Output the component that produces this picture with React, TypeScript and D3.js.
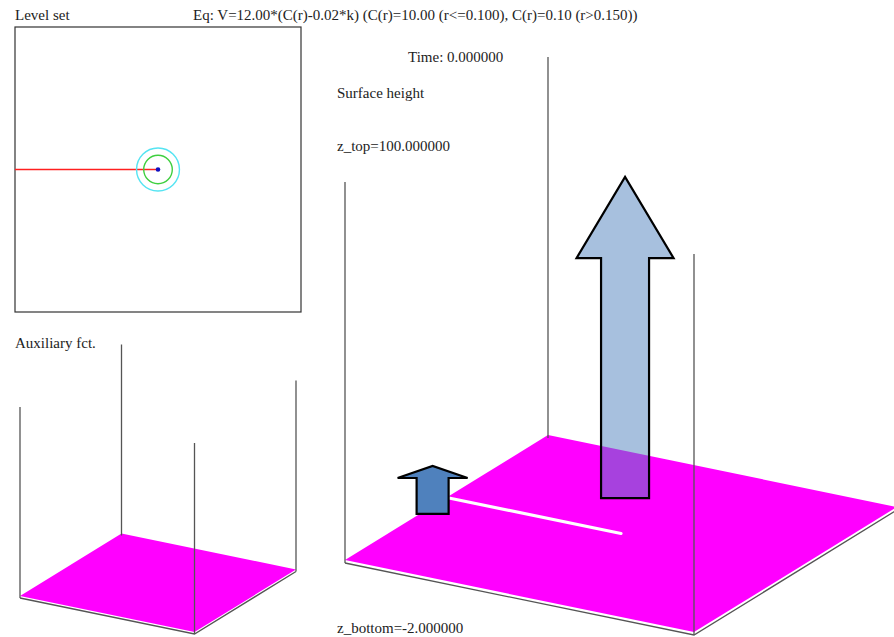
import React from 'react';
import * as d3 from 'd3';

const W = 894;
const H = 637;

// ---- data ----
const titleLeft = 'Level set';
const eqText = 'Eq: V=12.00*(C(r)-0.02*k) (C(r)=10.00 (r<=0.100), C(r)=0.10 (r>0.150))';
const auxTitle = 'Auxiliary fct.';
const surfaceTitle = 'Surface height';
const timeValue = 0;
const zTop = 100;
const zBottom = -2;
// level-set contours (radius in domain units [-1,1])
const contourRadii = [0.1, 0.15];
const contourColors = ['#3fcf3f', '#55e4f2'];
// front (crack) polyline in domain coords
const frontX = [-1, 0];
const frontY = [0, 0];
const tipX = 0;
const tipY = 0;
// plate corners (domain coords)
const plateX = [-1, 1, 1, -1];
const plateY = [-1, -1, 1, 1];
// visible vertical box edges
const mainVertX = [-1, -1, 1];
const mainVertY = [-1, 1, -1];
const auxVertX = [-1, -1, 1, 1];
const auxVertY = [-1, 1, -1, 1];
// annotation arrows (domain coords + heights in z units)
const arrowX = [-0.94, 0.0];
const arrowY = [-0.24, 0.04];
const arrowZ0 = [0.2, 8.7];
const arrowZHead = [9.7, 72.2];
const arrowZTip = [12.9, 93.7];
const arrowOpacity = [1, 0.5];

// ---- layout ----
const lsX = d3.scaleLinear().domain([-1, 1]).range([15, 301]);
const lsY = d3.scaleLinear().domain([1, -1]).range([27, 312]);
const sScale = d3.scaleLinear().domain([-1, 1]).range([0, 1]);
const zScale = d3.scaleLinear().domain([0, zTop]).range([0, 378]);

function makeProj(ox: number, oy: number, k: number) {
  return (x: number, y: number, z: number): [number, number] => {
    const s = sScale(x);
    const t = sScale(y);
    return [ox + k * (349 * s + 203 * t), oy + k * (72 * s - 125 * t - zScale(z))];
  };
}

const mainProj = makeProj(345, 560, 1);
const auxProj = makeProj(20, 596, 0.5);

const line = d3.line();

function Plate({ proj, verts, vertX, vertY, edgeOff }: any) {
  const corners = plateX.map((x, i) => proj(x, plateY[i], 0));
  const [A, D, C] = [corners[0], corners[1], corners[2]];
  const edge: [number, number][] = [
    [A[0], A[1] + edgeOff],
    [D[0], D[1] + edgeOff],
    [C[0], C[1] + edgeOff],
  ];
  return (
    <g>
      <path d={line(corners as any) + 'Z'} fill="#ff00ff" />
      <path d={line(edge) || ''} fill="none" stroke="#555" strokeWidth={1.3} />
      {vertX.map((x: number, i: number) => {
        const b = proj(x, vertY[i], 0);
        const t = proj(x, vertY[i], zTop);
        return <line key={i} x1={b[0]} y1={b[1] + edgeOff} x2={t[0]} y2={t[1]} stroke="#555" strokeWidth={1.3} />;
      })}
      {verts}
    </g>
  );
}

function arrowPath(i: number) {
  const base = mainProj(arrowX[i], arrowY[i], arrowZ0[i]);
  const head = mainProj(arrowX[i], arrowY[i], arrowZHead[i]);
  const tip = mainProj(arrowX[i], arrowY[i], arrowZTip[i]);
  const sw = i === 0 ? 16 : 24;
  const hw = i === 0 ? 35 : 48.5;
  const cx = base[0];
  const pts: [number, number][] = [
    [cx - sw, base[1]],
    [cx - sw, head[1]],
    [cx - hw, head[1]],
    [cx, tip[1]],
    [cx + hw, head[1]],
    [cx + sw, head[1]],
    [cx + sw, base[1]],
  ];
  return line(pts) + 'Z';
}

export default function App() {
  const font = { fontFamily: '"Liberation Serif", "Times New Roman", serif', fontSize: 15, fill: '#222' };
  const fr = frontX.map((x, i) => mainProj(x, frontY[i], 0));
  return (
    <svg width={W} height={H} style={{ position: 'absolute', left: 0, top: 0, display: 'block', background: '#fff' }}>
      {/* titles */}
      <text x={15} y={20} {...font}>{titleLeft}</text>
      <text x={193} y={20} {...font}>{eqText}</text>
      <text x={408} y={62} {...font}>{`Time: ${timeValue.toFixed(6)}`}</text>
      <text x={337} y={98} {...font}>{surfaceTitle}</text>
      <text x={337} y={151} {...font}>{`z_top=${zTop.toFixed(6)}`}</text>
      <text x={337} y={633} {...font}>{`z_bottom=${zBottom.toFixed(6)}`}</text>
      <text x={15} y={348} {...font}>{auxTitle}</text>

      {/* level set panel */}
      <rect x={lsX(-1)} y={lsY(1)} width={lsX(1) - lsX(-1)} height={lsY(-1) - lsY(1)} fill="none" stroke="#333" strokeWidth={1.2} />
      <path d={line(frontX.map((x, i) => [lsX(x), lsY(frontY[i])]) as any) || ''} stroke="#ff2020" strokeWidth={1.3} fill="none" />
      {contourRadii.map((r, i) => (
        <circle key={i} cx={lsX(tipX)} cy={lsY(tipY)} r={lsX(r) - lsX(0)} fill="none" stroke={contourColors[i]} strokeWidth={1.4} />
      ))}
      <circle cx={lsX(tipX)} cy={lsY(tipY)} r={2.3} fill="#1010c0" />

      {/* auxiliary 3D */}
      <Plate proj={auxProj} vertX={auxVertX} vertY={auxVertY} edgeOff={2} />

      {/* main 3D surface */}
      <Plate
        proj={mainProj}
        vertX={mainVertX}
        vertY={mainVertY}
        edgeOff={3}
        verts={
          <path d={line(fr) || ''} stroke="#fff" strokeWidth={3.2} strokeLinecap="round" fill="none" />
        }
      />

      {/* arrows */}
      {arrowX.map((_, i) => (
        <path key={i} d={arrowPath(i)} fill="#4f81bd" fillOpacity={arrowOpacity[i]} stroke="#000" strokeWidth={2.2} strokeLinejoin="miter" />
      ))}
    </svg>
  );
}
